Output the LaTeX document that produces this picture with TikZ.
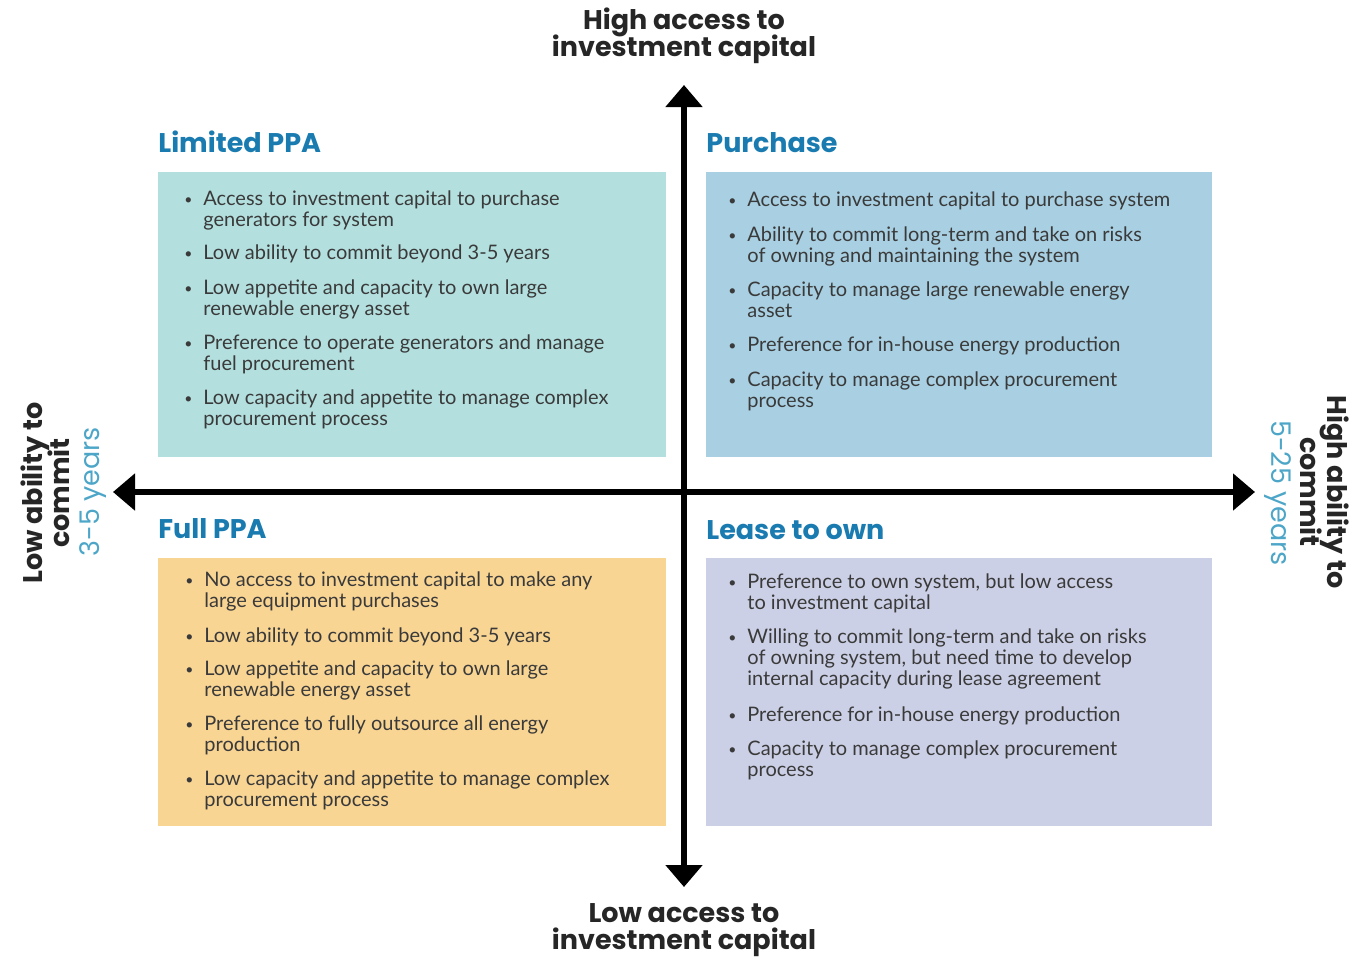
\documentclass[tikz,border=0pt]{standalone}
\usepackage{fontspec}
\setmainfont{Lato}
\newfontfamily\headfont{Poppins}
\usetikzlibrary{arrows.meta}
\definecolor{tealbox}{HTML}{B3E0DF}
\definecolor{bluebox}{HTML}{A8D0E2}
\definecolor{orangebox}{HTML}{F9D594}
\definecolor{lavbox}{HTML}{CCD0E6}
\definecolor{headblue}{HTML}{1A7BB0}
\definecolor{yearblue}{HTML}{4DA6C8}
\definecolor{txt}{HTML}{3A3A3A}
\newcommand{\bitem}[1]{\begin{tabular}[t]{@{}l@{}l@{}}\makebox[9.5pt][l]{\raisebox{0.5pt}{\scriptsize\textbullet}}&\begin{tabular}[t]{@{}l@{}}#1\end{tabular}\end{tabular}}
\newcommand{\axfont}{\headfont\fontsize{13.5}{13.4}\selectfont\bfseries\lineskiplimit -20pt\relax\lineskip 0pt\relax}
\begin{document}
\begin{tikzpicture}[x=0.5pt,y=-0.5pt,
  quad/.style={fill=#1, draw=none},
  itm/.style={anchor=base west, inner sep=0pt, text=txt, font=\fontsize{10}{10.5}\selectfont},
  head/.style={anchor=base west, inner sep=0pt, text=headblue, font=\headfont\fontsize{13.5}{14}\selectfont\bfseries},
  axlab/.style={align=center, inner sep=0pt, text=black!85, font=\axfont},
  years/.style={inner sep=0pt, text=yearblue, font=\headfont\fontsize{13.5}{12.5}\selectfont},
  axis/.style={line width=2.6pt, -{Triangle[width=18pt,length=11pt]}}
]
\useasboundingbox (0,0) rectangle (1357,960);
% boxes
\fill[quad=tealbox] (158,172) rectangle (666,457);
\fill[quad=bluebox] (706,172) rectangle (1212,457);
\fill[quad=orangebox] (158,558) rectangle (666,826);
\fill[quad=lavbox] (706,558) rectangle (1212,826);
% axes
\coordinate (c) at (684,492);
\coordinate (top) at (684,85);
\coordinate (bot) at (684,887);
\coordinate (lft) at (113,492);
\coordinate (rgt) at (1255,492);
\draw[axis] (c) -- (top);
\draw[axis] (c) -- (bot);
\draw[axis] (c) -- (lft);
\draw[axis] (c) -- (rgt);
% axis labels
\node[axlab] (tl) at (684,36) {High access to\\investment capital};
\node[axlab] (bl) at (684,930) {Low access to\\investment capital};
\node[axlab, rotate=90] (ll) at (45,493) {Low ability to\\commit};
\node[years, rotate=90] (ly) at (93,492) {3-5 years};
\node[axlab, rotate=-90] (rl) at (1325,492) {High ability to\\commit};
\node[years, rotate=-90] (ry) at (1278,493) {5-25 years};
% headings
\node[head] (h1) at (158,152) {Limited PPA};
\node[head] (h2) at (706,152) {Purchase};
\node[head] (h3) at (158,538) {Full PPA};
\node[head] (h4) at (706,539) {Lease to own};
% Limited PPA
\node[itm] (a1) at (184,205) {\bitem{Access to investment capital to purchase\\generators for system}};
\node[itm] (a2) at (184,259) {\bitem{Low ability to commit beyond 3-5 years}};
\node[itm] (a3) at (184,294) {\bitem{Low appetite and capacity to own large\\renewable energy asset}};
\node[itm] (a4) at (184,349) {\bitem{Preference to operate generators and manage\\fuel procurement}};
\node[itm] (a5) at (184,404) {\bitem{Low capacity and appetite to manage complex\\procurement process}};
% Purchase
\node[itm] (b1) at (728,206) {\bitem{Access to investment capital to purchase system}};
\node[itm] (b2) at (728,241) {\bitem{Ability to commit long-term and take on risks\\of owning and maintaining the system}};
\node[itm] (b3) at (728,296) {\bitem{Capacity to manage large renewable energy\\asset}};
\node[itm] (b4) at (728,351) {\bitem{Preference for in-house energy production}};
\node[itm] (b5) at (728,386) {\bitem{Capacity to manage complex procurement\\process}};
% Full PPA
\node[itm] (c1) at (185,586) {\bitem{No access to investment capital to make any\\large equipment purchases}};
\node[itm] (c2) at (185,642) {\bitem{Low ability to commit beyond 3-5 years}};
\node[itm] (c3) at (185,675) {\bitem{Low appetite and capacity to own large\\renewable energy asset}};
\node[itm] (c4) at (185,730) {\bitem{Preference to fully outsource all energy\\production}};
\node[itm] (c5) at (185,785) {\bitem{Low capacity and appetite to manage complex\\procurement process}};
% Lease to own
\node[itm] (d1) at (728,588) {\bitem{Preference to own system, but low access\\to investment capital}};
\node[itm] (d2) at (728,643) {\bitem{Willing to commit long-term and take on risks\\of owning system, but need time to develop\\internal capacity during lease agreement}};
\node[itm] (d3) at (728,721) {\bitem{Preference for in-house energy production}};
\node[itm] (d4) at (728,755) {\bitem{Capacity to manage complex procurement\\process}};
\end{tikzpicture}
\end{document}
